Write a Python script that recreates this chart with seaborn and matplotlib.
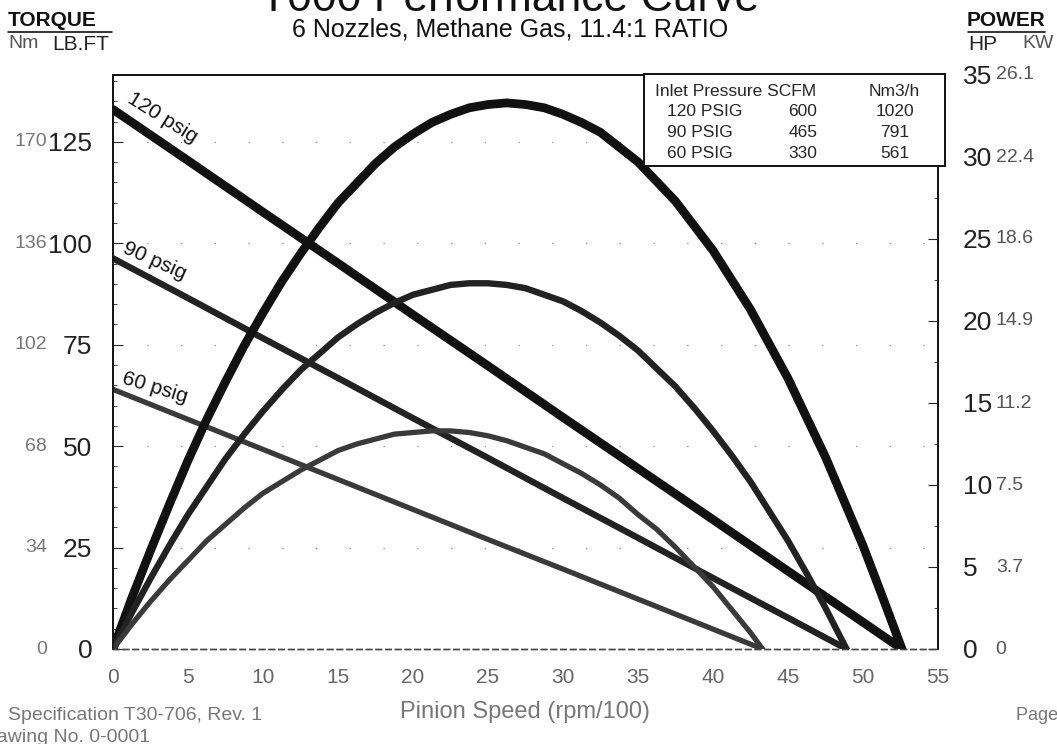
import matplotlib
matplotlib.use("Agg")
import matplotlib.pyplot as plt
import seaborn as sns
from matplotlib.ticker import MultipleLocator

# torque lines (lb.ft)
speed_t120 = [0, 5, 10, 15, 20, 25, 30, 35, 40, 45, 50, 52.6]
torque_120 = [133.0, 120.4, 107.7, 95.1, 82.4, 69.8, 57.1, 44.5, 31.9, 19.2, 6.6, 0]
speed_t90 = [0, 5, 10, 15, 20, 25, 30, 35, 40, 45, 48.9]
torque_90 = [96.3, 86.5, 76.6, 66.8, 56.9, 47.1, 37.2, 27.4, 17.5, 7.7, 0]
speed_t60 = [0, 5, 10, 15, 20, 25, 30, 35, 40, 43.3]
torque_60 = [64.0, 56.6, 49.2, 41.8, 34.4, 27.0, 19.7, 12.3, 4.9, 0]

# power curves (HP)
speed_p120 = [0, 1.25, 2.5, 3.75, 5, 6.25, 7.5, 8.75, 10, 11.25, 12.5, 13.75, 15, 16.25,
              17.5, 18.75, 20, 21.25, 22.5, 23.75, 25, 26.25, 27.5, 28.75, 30, 31.25,
              32.5, 33.75, 35, 36.25, 37.5, 38.75, 40, 41.25, 42.5, 43.75, 45, 46.25,
              47.5, 48.75, 50, 51.25, 52.6]
power_120 = [0, 3.1, 6.0, 8.8, 11.5, 14.0, 16.3, 18.5, 20.5, 22.4, 24.1, 25.7, 27.2, 28.4,
             29.6, 30.6, 31.4, 32.1, 32.6, 33.0, 33.2, 33.3, 33.2, 33.0, 32.6, 32.1,
             31.5, 30.6, 29.7, 28.5, 27.3, 25.8, 24.3, 22.5, 20.7, 18.6, 16.5, 14.1,
             11.7, 9.0, 6.3, 3.3, 0]
speed_p90 = [0, 1.25, 2.5, 3.75, 5, 6.25, 7.5, 8.75, 10, 11.25, 12.5, 13.75, 15, 16.25,
             17.5, 18.75, 20, 21.25, 22.5, 23.75, 25, 26.25, 27.5, 28.75, 30, 31.25,
             32.5, 33.75, 35, 36.25, 37.5, 38.75, 40, 41.25, 42.5, 43.75, 45, 46.25,
             47.5, 48.9]
power_90 = [0, 2.2, 4.3, 6.3, 8.2, 9.9, 11.6, 13.1, 14.5, 15.8, 17.0, 18.0, 19.0, 19.8,
            20.5, 21.1, 21.6, 21.9, 22.2, 22.3, 22.3, 22.2, 22.0, 21.6, 21.2, 20.6,
            19.9, 19.1, 18.2, 17.1, 16.0, 14.7, 13.3, 11.8, 10.2, 8.4, 6.6, 4.6,
            2.5, 0]
speed_p60 = [0, 1.25, 2.5, 3.75, 5, 6.25, 7.5, 8.75, 10, 11.25, 12.5, 13.75, 15, 16.25,
             17.5, 18.75, 20, 21.25, 22.5, 23.75, 25, 26.25, 27.5, 28.75, 30, 31.25,
             32.5, 33.75, 35, 36.25, 37.5, 38.75, 40, 41.25, 42.5, 43.3]
power_60 = [0, 1.5, 2.9, 4.2, 5.4, 6.6, 7.6, 8.6, 9.5, 10.2, 10.9, 11.5, 12.1, 12.5,
            12.8, 13.1, 13.2, 13.3, 13.3, 13.2, 13.0, 12.7, 12.3, 11.9, 11.3, 10.7,
            10.0, 9.2, 8.2, 7.3, 6.2, 5.0, 3.8, 2.4, 1.0, 0]

# axis labels
lbft_ticks = [0, 25, 50, 75, 100, 125]
nm_labels = ["0", "34", "68", "102", "136", "170"]
hp_ticks = [0, 5, 10, 15, 20, 25, 30, 35]
kw_labels = ["0", "3.7", "7.5", "11.2", "14.9", "18.6", "22.4", "26.1"]
speed_ticks = [0, 5, 10, 15, 20, 25, 30, 35, 40, 45, 50, 55]

# flow table
inlet = ["120 PSIG", "90 PSIG", "60 PSIG"]
scfm = ["600", "465", "330"]
nm3h = ["1020", "791", "561"]

sns.set_theme(style="white")
plt.rcParams["font.family"] = ["Liberation Sans", "DejaVu Sans"]

W, H = 1057, 744
fig = plt.figure(figsize=(W / 100, H / 100), dpi=100)
fx = lambda px: px / W
fy = lambda py: 1 - py / H

ax = fig.add_axes([fx(113), fy(649), (938 - 113) / W, (649 - 75) / H])
ax2 = ax.twinx()

series = [
    (speed_t120, torque_120, speed_p120, power_120, "#111111", 6.3),
    (speed_t90, torque_90, speed_p90, power_90, "#222222", 4.6),
    (speed_t60, torque_60, speed_p60, power_60, "#3a3a3a", 3.8),
]
for st, tq, sp, pw, col, lw in series:
    sns.lineplot(x=st, y=tq, ax=ax, color=col, linewidth=lw, sort=False,
                 estimator=None, solid_capstyle="round", solid_joinstyle="round")
    sns.lineplot(x=sp, y=pw, ax=ax2, color=col, linewidth=lw, sort=False,
                 estimator=None, solid_capstyle="round", solid_joinstyle="round")

ax.set_xlim(0, 55)
ax.set_ylim(0, 141.5)
ax2.set_ylim(0, 35)

# faint dotted grid at torque levels
for v in lbft_ticks[1:]:
    ax.axhline(v, color="#888888", lw=0.9, ls=(0, (1, 26)), zorder=0)

ax.set_xticks(speed_ticks)
ax.set_xticklabels([str(s) for s in speed_ticks], color="#666666", fontsize=15)
ax.tick_params(axis="x", length=0, pad=14)

ax.set_yticks(lbft_ticks)
ax.set_yticklabels([str(v) for v in lbft_ticks], fontsize=19, color="#222222")
ax.yaxis.set_minor_locator(MultipleLocator(5))
ax.tick_params(axis="y", which="major", direction="in", length=7, width=0.8, pad=15)
ax.tick_params(axis="y", which="minor", direction="in", length=3, width=0.6)

ax2.set_yticks(hp_ticks)
ax2.set_yticklabels([str(v) for v in hp_ticks], fontsize=19, color="#222222")
ax2.yaxis.set_minor_locator(MultipleLocator(2.5))
ax2.tick_params(axis="y", which="major", direction="in", length=7, width=0.8, pad=18)
ax2.tick_params(axis="y", which="minor", direction="in", length=3, width=0.6)
ax.set_ylabel("")
ax2.set_ylabel("")

for a in (ax, ax2):
    for s in ("left", "right", "top"):
        a.spines[s].set_color("#111111")
        a.spines[s].set_linewidth(1.2)
    a.spines["bottom"].set_color("#444444")
    a.spines["bottom"].set_linestyle((0, (4, 3)))
    a.spines["bottom"].set_linewidth(1.0)

# secondary unit columns
for v, lab in zip(lbft_ticks, nm_labels):
    ax.text(-0.08, v, lab, transform=ax.get_yaxis_transform(), ha="right",
            va="center", fontsize=14, color="#777777")
for v, lab in zip(hp_ticks, kw_labels):
    ax2.text(1.07, v, lab, transform=ax2.get_yaxis_transform(), ha="left",
             va="center", fontsize=14, color="#555555")

# curve labels
ax.text(0.7, torque_120[0] + 1, "120 psig", rotation=-32, rotation_mode="anchor",
        ha="left", va="bottom", fontsize=15, color="#111111")
ax.text(0.5, torque_90[0] + 0.5, "90 psig", rotation=-24, rotation_mode="anchor",
        ha="left", va="bottom", fontsize=15, color="#111111")
ax.text(0.5, torque_60[0] + 0.5, "60 psig", rotation=-17, rotation_mode="anchor",
        ha="left", va="bottom", fontsize=15, color="#111111")

ax.set_xlabel("Pinion Speed (rpm/100)", fontsize=17, color="#777777", labelpad=10)

# flow table
tbl = plt.Rectangle((fx(644), fy(166)), fx(945) - fx(644), fy(74) - fy(166),
                    transform=fig.transFigure, fill=True, facecolor="white",
                    edgecolor="#111111", lw=1.4, zorder=5)
fig.patches.append(tbl)
fig.text(fx(655), fy(92), "Inlet Pressure SCFM", fontsize=12.5, va="center",
         ha="left", zorder=6)
fig.text(fx(894), fy(92), "Nm3/h", fontsize=12.5, va="center", ha="center", zorder=6)
for i, (p, q, r) in enumerate(zip(inlet, scfm, nm3h)):
    yy = fy(111 + i * 21.5)
    fig.text(fx(667), yy, p, fontsize=12.5, va="center", ha="left", zorder=6)
    fig.text(fx(803), yy, q, fontsize=12.5, va="center", ha="center", zorder=6)
    fig.text(fx(895), yy, r, fontsize=12.5, va="center", ha="center", zorder=6)

# titles and corner headers
fig.text(fx(510), fy(11), "T000 Performance Curve", fontsize=32, ha="center",
         va="baseline", color="#111111")
fig.text(fx(510), fy(30), "6 Nozzles, Methane Gas, 11.4:1 RATIO", fontsize=18,
         ha="center", va="center", color="#111111")
fig.text(fx(8), fy(20), "TORQUE", fontsize=15, fontweight="bold", ha="left",
         va="center", color="#111111")
fig.add_artist(plt.Line2D([fx(8), fx(112)], [fy(32), fy(32)], color="#111111", lw=1.2))
fig.text(fx(8), fy(44), "Nm", fontsize=14, ha="left", va="center", color="#555555")
fig.text(fx(52), fy(44), "LB.FT", fontsize=15, ha="left", va="center", color="#222222")
fig.text(fx(1045), fy(20), "POWER", fontsize=15, fontweight="bold", ha="right",
         va="center", color="#111111")
fig.add_artist(plt.Line2D([fx(968), fx(1045)], [fy(32), fy(32)], color="#111111", lw=1.2))
fig.text(fx(968), fy(44), "HP", fontsize=15, ha="left", va="center", color="#222222")
fig.text(fx(1022), fy(44), "KW", fontsize=14, ha="left", va="center", color="#555555")

# scanned footer fragments
fig.text(fx(262), fy(716), "Specification T30-706, Rev. 1", fontsize=14, ha="right",
         va="center", color="#777777")
fig.text(fx(150), fy(737), "Drawing No. 0-0001", fontsize=14, ha="right",
         va="center", color="#777777")
fig.text(fx(1016), fy(716), "Page 1", fontsize=13, ha="left", va="center",
         color="#777777")

fig.savefig("out.png", dpi=100)
